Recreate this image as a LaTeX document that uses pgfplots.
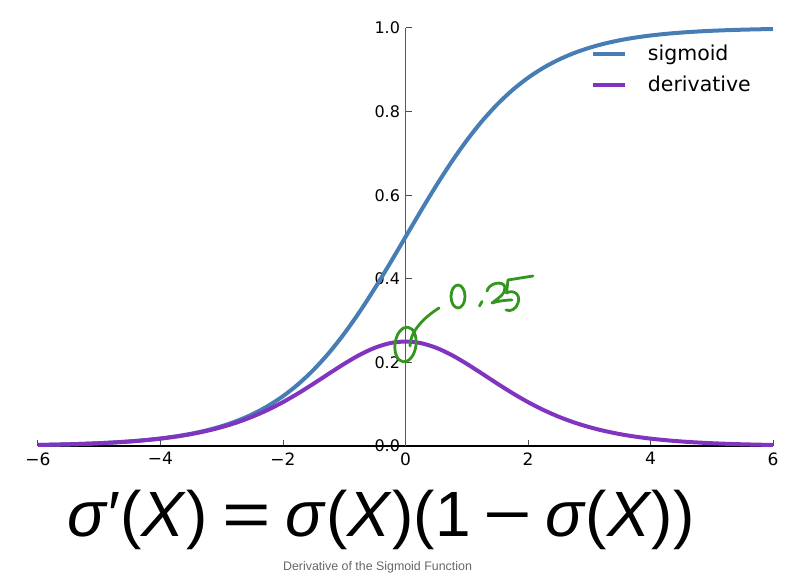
\documentclass[border=0pt]{standalone}
\usepackage{pgfplots}
\pgfplotsset{compat=1.18}
\usepackage{pgfplotstable}
\usepackage{fontspec}
\setmainfont{DejaVu Sans}
\newfontfamily\formfont{Liberation Sans}
\definecolor{sigblue}{RGB}{70,125,180}
\definecolor{derpurple}{RGB}{128,52,192}
\definecolor{hand}{RGB}{52,150,30}
\pgfplotstableread{
x s d
-6 0.002473 0.002467
-5.75 0.003173 0.003163
-5.5 0.004070 0.004054
-5.25 0.005220 0.005193
-5 0.006693 0.006648
-4.75 0.008577 0.008504
-4.5 0.010987 0.010866
-4.25 0.014064 0.013866
-4 0.017986 0.017663
-3.75 0.022978 0.022451
-3.5 0.029312 0.028453
-3.25 0.037327 0.035934
-3 0.047426 0.045177
-2.75 0.060087 0.056477
-2.5 0.075858 0.070104
-2.25 0.095349 0.086258
-2 0.119203 0.104994
-1.75 0.148047 0.126129
-1.5 0.182426 0.149146
-1.25 0.222700 0.173105
-1 0.268941 0.196612
-0.75 0.320821 0.217895
-0.5 0.377541 0.235004
-0.25 0.437823 0.246134
0 0.5 0.25
0.25 0.562177 0.246134
0.5 0.622459 0.235004
0.75 0.679179 0.217895
1 0.731059 0.196612
1.25 0.777300 0.173105
1.5 0.817574 0.149146
1.75 0.851953 0.126129
2 0.880797 0.104994
2.25 0.904651 0.086258
2.5 0.924142 0.070104
2.75 0.939913 0.056477
3 0.952574 0.045177
3.25 0.962673 0.035934
3.5 0.970688 0.028453
3.75 0.977022 0.022451
4 0.982014 0.017663
4.25 0.985936 0.013866
4.5 0.989013 0.010866
4.75 0.991423 0.008504
5 0.993307 0.006648
5.25 0.994780 0.005193
5.5 0.995930 0.004054
5.75 0.996827 0.003163
6 0.997527 0.002467
}\sigdata
\newcommand{\wide}[1]{\scalebox{1.3}[1]{#1}}
\begin{document}
\begin{tikzpicture}
\begin{axis}[
  scale only axis,
  width=735pt, height=418pt,
  xmin=-6, xmax=6, ymin=0, ymax=1,
  axis x line=middle, axis y line=middle,
  axis line style={-, line width=1.2pt},
  x axis line style={black},
  y axis line style={black!65},
  hide obscured x ticks=false, hide obscured y ticks=false,
  xtick={-6,-4,-2,0,2,4,6},
  xticklabels={−6,−4,−2,0,2,4,6},
  ytick={0,0.2,0.4,0.6,0.8,1.0},
  yticklabels={0.0,0.2,0.4,0.6,0.8,1.0},
  tick align=inside,
  major tick length=6pt,
  tick style={black!70, line width=1pt},
  /pgf/number format/assume math mode=true,
  xticklabel style={font=\fontsize{17}{20}\selectfont, yshift=-3pt},
  yticklabel style={font=\fontsize{16}{19}\selectfont, xshift=-2pt},
  clip=false,
  legend style={draw=none, fill=none, at={(axis cs:6,1)}, anchor=north east,
    xshift=-17pt, yshift=-13pt, font=\fontsize{20.5}{24}\selectfont,
    row sep=10pt},
  legend cell align=left,
  legend image code/.code={\draw[#1, line width=4pt] (0pt,0pt) -- (32pt,0pt);},
  legend style={nodes={inner sep=2pt}, column sep=19pt},
]
\addplot[sigblue, line width=4pt, smooth] table[x=x, y=s] {\sigdata};
\addlegendentry{sigmoid}
\addplot[derpurple, line width=4pt, smooth] table[x=x, y=d] {\sigdata};
\addlegendentry{derivative}
\coordinate (ll) at (rel axis cs:0,0);
\coordinate (ur) at (rel axis cs:1,1);
\end{axis}
% handwritten annotation (pixel-like coordinates relative to the axis box)
\begin{scope}[shift={(ll)}, x=1pt, y=-1pt, shift={(-38,-446)}, hand, line width=2.8pt, line cap=round, line join=round]
  \draw[rotate around={-8:(405.5,344.5)}] (405.5,344.5) ellipse [x radius=10.5, y radius=17.5];
  \draw (410,346) .. controls (410,334) and (420,320) .. (439,308);
  \draw (458,296.5) ellipse [x radius=7, y radius=11.5];
  \draw (479.5,306) -- (482,301.5);
  \draw (487,291) .. controls (489,283) and (503,280) .. (505,287)
        .. controls (506,294) and (497,299) .. (492,303) .. controls (498,301) and (506,300) .. (512,300);
  \draw (508,280) -- (533,276);
  \draw (508,280) -- (506.5,293) .. controls (514,289) and (521,295) .. (518,303)
        .. controls (516,309) and (511,312) .. (506,310);
\end{scope}
\node[anchor=base, inner sep=0pt, font=\formfont\fontsize{64}{70}\selectfont] at ([xshift=343pt, yshift=-91pt]ll)
  {\textit{σ}′(\textit{X})\hspace{15pt}\wide{=}\hspace{15pt}\textit{σ}(\textit{X})(1\hspace{13pt}\wide{−}\hspace{13pt}\textit{σ}(\textit{X}))};
\node[anchor=base, text=black!60, font=\formfont\fontsize{12.4}{14}\selectfont] at ([xshift=339.5pt, yshift=-125pt]ll)
  {Derivative of the Sigmoid Function};
\pgfresetboundingbox
\path[use as bounding box] ([xshift=-38pt, yshift=-136pt]ll) rectangle ([xshift=33pt, yshift=28pt]ur);
\end{tikzpicture}
\end{document}
